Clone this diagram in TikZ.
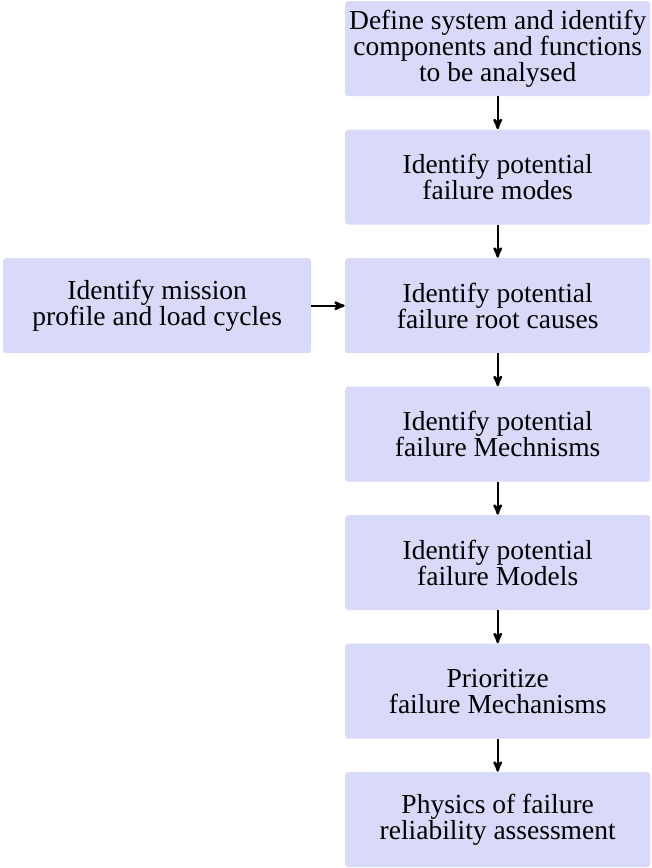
\documentclass[tikz,border=0pt]{standalone}
\usepackage{fontspec}
\setmainfont{Liberation Serif}
\usepackage{tikz}
\usetikzlibrary{
  arrows,
  chains,
  matrix,
  positioning,
  scopes
}
\definecolor{stepfill}{RGB}{217,217,250}

\begin{document}
\begin{tikzpicture}[
      x=1pt,y=1pt,
      stepnode/.style={
         rectangle,
         rounded corners=3pt,
         minimum width=305pt,
         minimum height=95pt,
         inner sep=0pt,
         outer sep=0pt,
         fill=stepfill,
         align=center,
         font=\fontsize{27.5}{25.8}\selectfont,
      },
      inputnode/.style={
         stepnode,
         minimum width=308pt
      },
      >=stealth',line width=2.4pt,
      tip/.style={->,shorten >=0.5pt}
    ]
    \useasboundingbox (0,0) rectangle (651,-868);
    \matrix[anchor=north west, inner sep=0pt, column sep=34pt, row sep=33.5pt] at (2,0) {
 & \node (n11) [stepnode] {Define system and identify\\components and functions\\to be analysed}; \\
 & \node (n12) [stepnode] {Identify potential\\failure modes}; \\
\node (n21) [inputnode] {Identify mission\\profile and load cycles}; & \node (n13) [stepnode] {Identify potential\\failure root causes}; \\
 & \node (n14) [stepnode] {Identify potential\\failure Mechnisms}; \\
 & \node (n15) [stepnode] {Identify potential\\failure Models}; \\
 & \node (n16) [stepnode] {Prioritize\\failure Mechanisms}; \\
 & \node (n17) [stepnode] {Physics of failure\\reliability assessment}; \\
    };
  { [start chain]
       \chainin (n11);
       \chainin (n12)    [join=by tip];
       \chainin (n13)    [join=by tip];
       \chainin (n14)    [join=by tip];
       \chainin (n15)    [join=by tip];
       \chainin (n16)    [join=by tip];
       \chainin (n17)    [join=by tip];
  }
  { [start chain]
       \chainin (n21);
       \chainin (n13)    [join=by tip];
  }
\end{tikzpicture}
\end{document}
